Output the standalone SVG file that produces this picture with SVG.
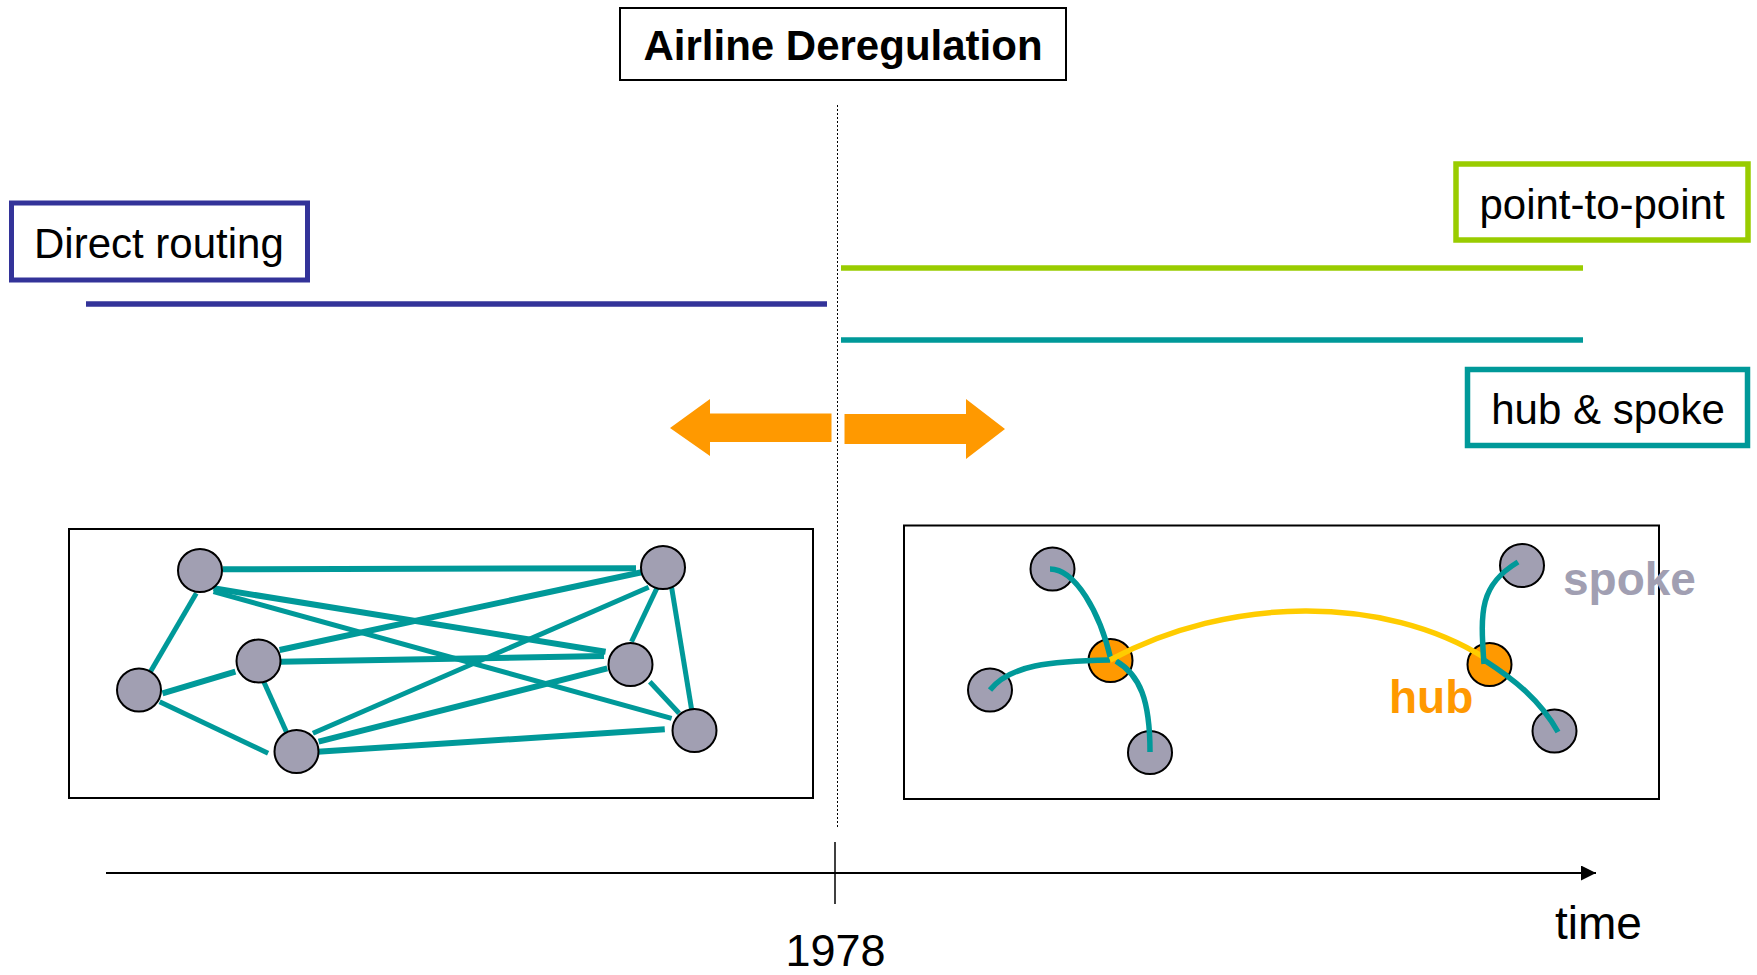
<svg xmlns="http://www.w3.org/2000/svg" width="1757" height="975" viewBox="0 0 1757 975">
<style>
.t{font-family:"Liberation Sans",Arial,sans-serif;}
.lbl{font-size:42px;fill:#000;}
.node{fill:#A19FB2;stroke:#000;stroke-width:2;}
.hubn{fill:#FF9900;stroke:#000;stroke-width:2;}
.e{stroke:#009999;stroke-width:5;fill:none;}
.E{stroke:#009999;stroke-width:6;fill:none;}
.c{stroke:#009999;stroke-width:5.5;fill:none;}
</style>
<defs>
<marker id="ah" markerWidth="16" markerHeight="16" refX="15" refY="7.5" orient="auto" markerUnits="userSpaceOnUse">
<path d="M0,0 L15,7.5 L0,15 Z" fill="#000"/>
</marker>
</defs>
<rect width="1757" height="975" fill="#fff"/>

<g id="title">
<rect x="620" y="8" width="446" height="72" fill="#fff" stroke="#000" stroke-width="2"/>
<text class="t" x="843" y="60" font-size="42" font-weight="bold" text-anchor="middle">Airline Deregulation</text>
</g>

<g id="divider">
<line x1="837.5" y1="105" x2="837.5" y2="827" stroke="#000" stroke-width="1" stroke-dasharray="2,2"/>
</g>

<g id="direct-routing">
<rect x="11.5" y="203" width="296" height="77" fill="#fff" stroke="#333399" stroke-width="5"/>
<text class="t lbl" x="34" y="258">Direct routing</text>
</g>

<g id="point-to-point">
<rect x="1456" y="164" width="292" height="76" fill="#fff" stroke="#99CC00" stroke-width="5.5"/>
<text class="t lbl" x="1602" y="219" text-anchor="middle">point-to-point</text>
</g>

<g id="hub-spoke">
<rect x="1467.5" y="369.5" width="280" height="76" fill="#fff" stroke="#009999" stroke-width="5.5"/>
<text class="t lbl" x="1608" y="424" text-anchor="middle">hub &amp; spoke</text>
</g>

<g id="period-lines">
<line x1="86" y1="304" x2="827" y2="304" stroke="#333399" stroke-width="5.5"/>
<line x1="841" y1="268" x2="1583" y2="268" stroke="#99CC00" stroke-width="5.5"/>
<line x1="841" y1="340" x2="1583" y2="340" stroke="#009999" stroke-width="5.5"/>
</g>

<g id="orange-arrows" fill="#FF9900">
<path d="M670,428 L710,399 L710,413.5 L831.5,413.5 L831.5,442 L710,442 L710,456 Z"/>
<path d="M1005,429 L966,399 L966,414 L844.5,414 L844.5,444 L966,444 L966,459 Z"/>
</g>

<g id="before-network">
<rect x="69" y="529" width="744" height="269" fill="#fff" stroke="#000" stroke-width="2"/>
<g id="before-edges">
<line class="E" x1="222.7" y1="569.3" x2="636" y2="568.3"/>
<line class="E" x1="213.5" y1="588.3" x2="605.6" y2="651.7"/>
<line class="e" x1="213.5" y1="591.7" x2="671.6" y2="718.3"/>
<line class="e" x1="196.3" y1="593.3" x2="150.4" y2="671.7"/>
<line class="E" x1="644" y1="571.7" x2="279.6" y2="650"/>
<line class="e" x1="648.7" y1="587.3" x2="312.9" y2="733.3"/>
<line class="e" x1="657.3" y1="587.3" x2="631.5" y2="641.7"/>
<line class="e" x1="671.6" y1="587.3" x2="691.7" y2="710"/>
<line class="E" x1="279.6" y1="661.7" x2="604" y2="656"/>
<line class="E" x1="235.4" y1="671.7" x2="162.5" y2="693.3"/>
<line class="e" x1="263" y1="680" x2="287" y2="733.3"/>
<line class="e" x1="159.6" y1="701.7" x2="268.1" y2="753.3"/>
<line class="E" x1="318.6" y1="741.7" x2="607.3" y2="668.3"/>
<line class="E" x1="317.5" y1="751.7" x2="664.8" y2="729.3"/>
<line class="e" x1="649.8" y1="681.7" x2="679.1" y2="713.3"/>
</g>
<ellipse id="n1" class="node" cx="200" cy="570.5" rx="22" ry="21.5"/>
<ellipse id="n2" class="node" cx="663" cy="567.5" rx="22" ry="21.5"/>
<ellipse id="n3" class="node" cx="139" cy="690" rx="22" ry="21.5"/>
<ellipse id="n4" class="node" cx="258.5" cy="661" rx="22" ry="21.5"/>
<ellipse id="n5" class="node" cx="630.5" cy="664.5" rx="22" ry="21.5"/>
<ellipse id="n6" class="node" cx="296.5" cy="751.5" rx="22" ry="21.5"/>
<ellipse id="n7" class="node" cx="694.5" cy="730.5" rx="22" ry="21.5"/>
</g>

<g id="after-network">
<rect x="904" y="525.5" width="755" height="273.5" fill="#fff" stroke="#000" stroke-width="2"/>
<ellipse id="s1" class="node" cx="1052.5" cy="569" rx="22" ry="21.5"/>
<ellipse id="s2" class="node" cx="990" cy="690" rx="22" ry="21.5"/>
<ellipse id="s3" class="node" cx="1150" cy="752.5" rx="22" ry="21.5"/>
<ellipse id="s4" class="node" cx="1522" cy="565.5" rx="22" ry="21.5"/>
<ellipse id="s5" class="node" cx="1554.5" cy="731" rx="22" ry="21.5"/>
<ellipse id="h1" class="hubn" cx="1110.5" cy="660.5" rx="22" ry="21.5"/>
<ellipse id="h2" class="hubn" cx="1489.5" cy="664.5" rx="22" ry="21.5"/>
<g id="after-edges">
<path class="c" d="M1050,569 C1075,569 1100,612 1111,660"/>
<path class="c" d="M990,690 C1010,665 1050,661 1110,660"/>
<path class="c" d="M1116,661 C1140,675 1150,700 1150,752"/>
<path d="M1110,660 C1230,595 1385,595 1485,658" stroke="#FFCC00" stroke-width="5.5" fill="none"/>
<path class="c" d="M1484,664 C1480,610 1480,585 1518,562"/>
<path class="c" d="M1484,660 C1515,680 1540,700 1558,732"/>
</g>
<text class="t" x="1389" y="713" font-size="46" font-weight="bold" fill="#FF9900">hub</text>
<text class="t" x="1563" y="595" font-size="46" font-weight="bold" fill="#A19FB2">spoke</text>
</g>

<g id="timeline">
<line x1="106" y1="873" x2="1596" y2="873" stroke="#000" stroke-width="2.2" marker-end="url(#ah)"/>
<line x1="835" y1="842" x2="835" y2="904" stroke="#000" stroke-width="1.5"/>
<text class="t" x="835.5" y="966" font-size="45" text-anchor="middle">1978</text>
<text class="t" x="1555" y="939" font-size="46">time</text>
</g>
</svg>
